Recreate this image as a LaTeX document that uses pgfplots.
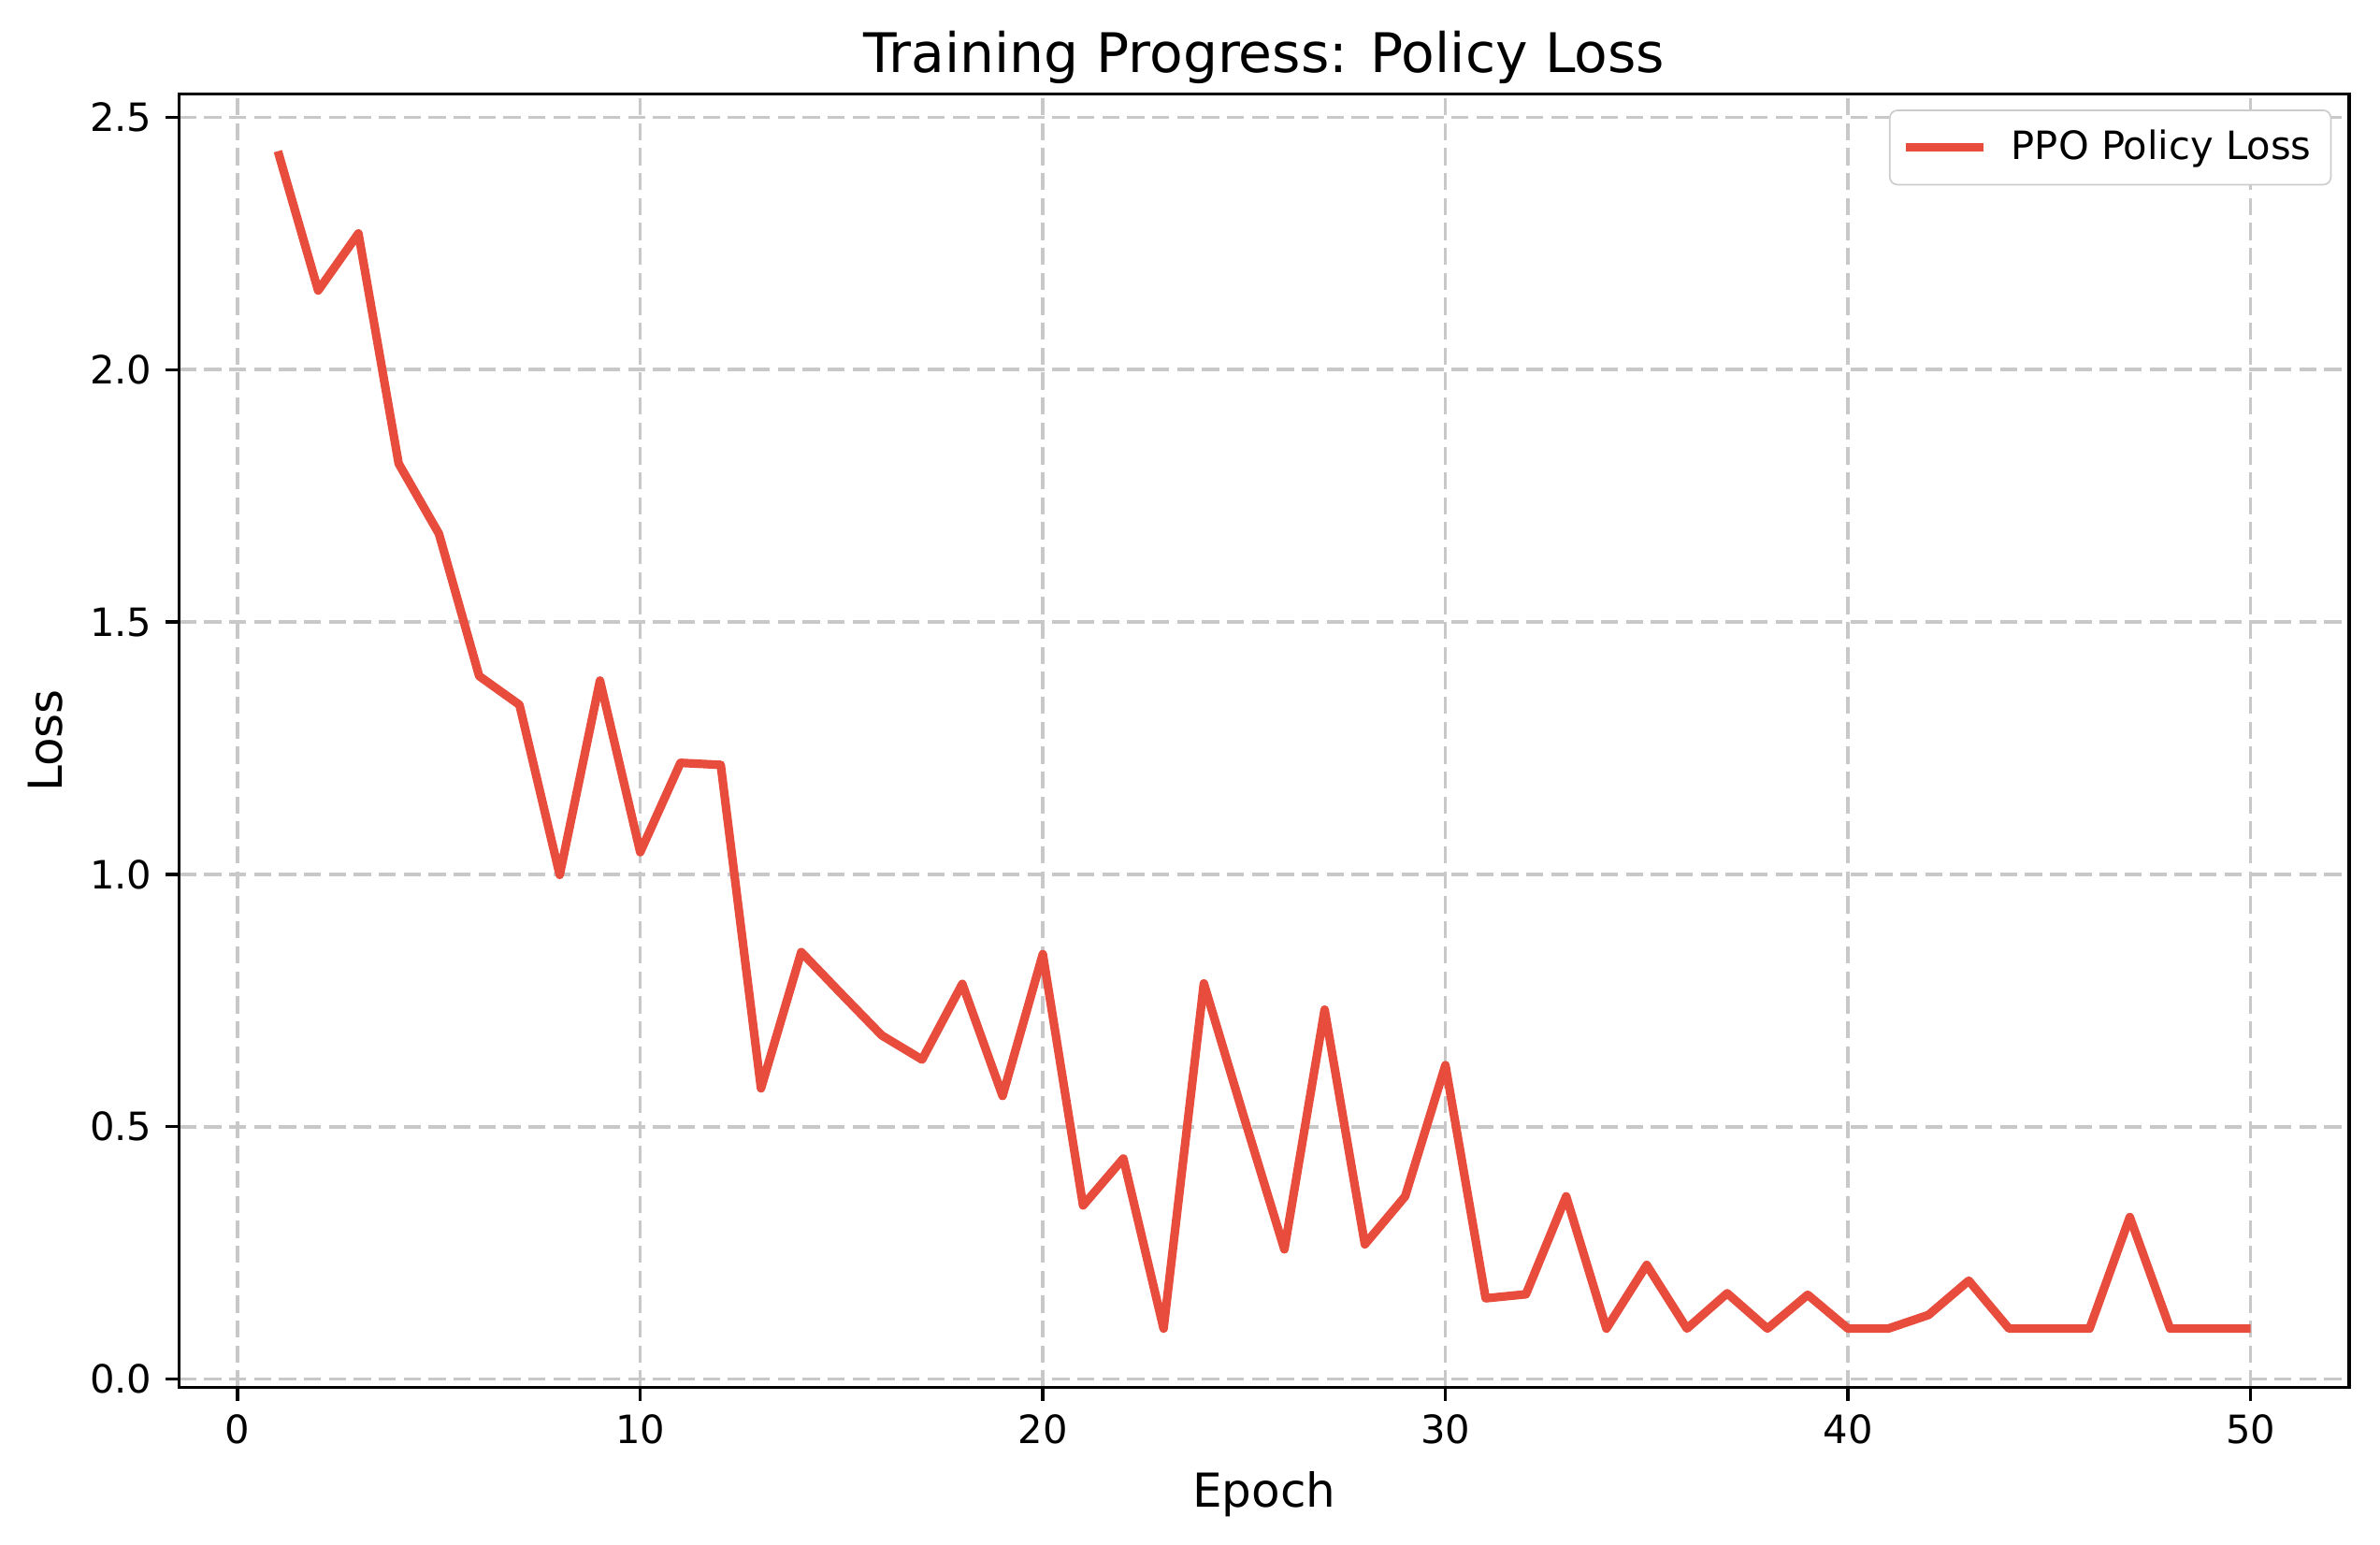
\documentclass[border=0pt]{standalone}
\usepackage{fontspec}
\setmainfont{DejaVu Sans}
\usepackage{pgfplots}
\pgfplotsset{compat=1.18}
\definecolor{lossred}{RGB}{231,76,60}
\definecolor{gridgray}{RGB}{200,200,200}
\definecolor{legedge}{RGB}{204,204,204}
\begin{document}
\begin{tikzpicture}
\begin{axis}[
  scale only axis,
  width=556.8pt, height=331.9pt,
  xmin=-1.45, xmax=52.45,
  ymin=-0.0167, ymax=2.5465,
  xtick={0,10,20,30,40,50},
  ytick={0,0.5,1.0,1.5,2.0,2.5},
  yticklabel style={/pgf/number format/fixed,/pgf/number format/fixed zerofill,/pgf/number format/precision=1},
  /pgf/number format/assume math mode=true,
  tick label style={font=\fontsize{10}{12}\selectfont},
  tick align=outside,
  tick pos=left,
  major tick length=3.5pt,
  every tick/.style={black, line width=0.8pt},
  axis line style={line width=0.8pt},
  grid=major,
  major grid style={gridgray, line width=0.9pt, dash pattern=on 4.4pt off 2pt},
  title={Training Progress: Policy Loss},
  title style={font=\fontsize{14}{17}\selectfont, yshift=-7pt},
  xlabel={Epoch},
  ylabel={Loss},
  label style={font=\fontsize{12}{14}\selectfont},
  legend style={at={(1,1)}, anchor=north east, xshift=-4.5pt, yshift=-4pt,
    draw=legedge, rounded corners=2pt, font=\fontsize{10}{12}\selectfont,
    inner xsep=3pt, inner ysep=3pt},
  legend cell align=left,
  legend image code/.code={\draw[#1] (0pt,0pt) -- (20pt,0pt); \path (24pt,0pt);},
]
\addplot[lossred, line width=2.2pt, line join=round] coordinates {
(1,2.433) (2,2.157) (3,2.270) (4,1.814) (5,1.675) (6,1.393) (7,1.336) (8,0.999) (9,1.384) (10,1.044)
(11,1.221) (12,1.217) (13,0.576) (14,0.846) (15,0.763) (16,0.681) (17,0.633) (18,0.783) (19,0.561) (20,0.842)
(21,0.344) (22,0.437) (23,0.100) (24,0.784) (25,0.518) (26,0.257) (27,0.732) (28,0.267) (29,0.362) (30,0.622)
(31,0.160) (32,0.168) (33,0.362) (34,0.100) (35,0.226) (36,0.100) (37,0.170) (38,0.100) (39,0.167) (40,0.100)
(41,0.100) (42,0.127) (43,0.195) (44,0.100) (45,0.100) (46,0.100) (47,0.321) (48,0.100) (49,0.100) (50,0.100)
};
\addlegendentry{PPO Policy Loss}
\end{axis}
\pgfresetboundingbox
\path ([shift={(-46pt,-40.3pt)}]current axis.south west) rectangle ([shift={(7.9pt,24.1pt)}]current axis.north east);
\end{tikzpicture}
\end{document}
